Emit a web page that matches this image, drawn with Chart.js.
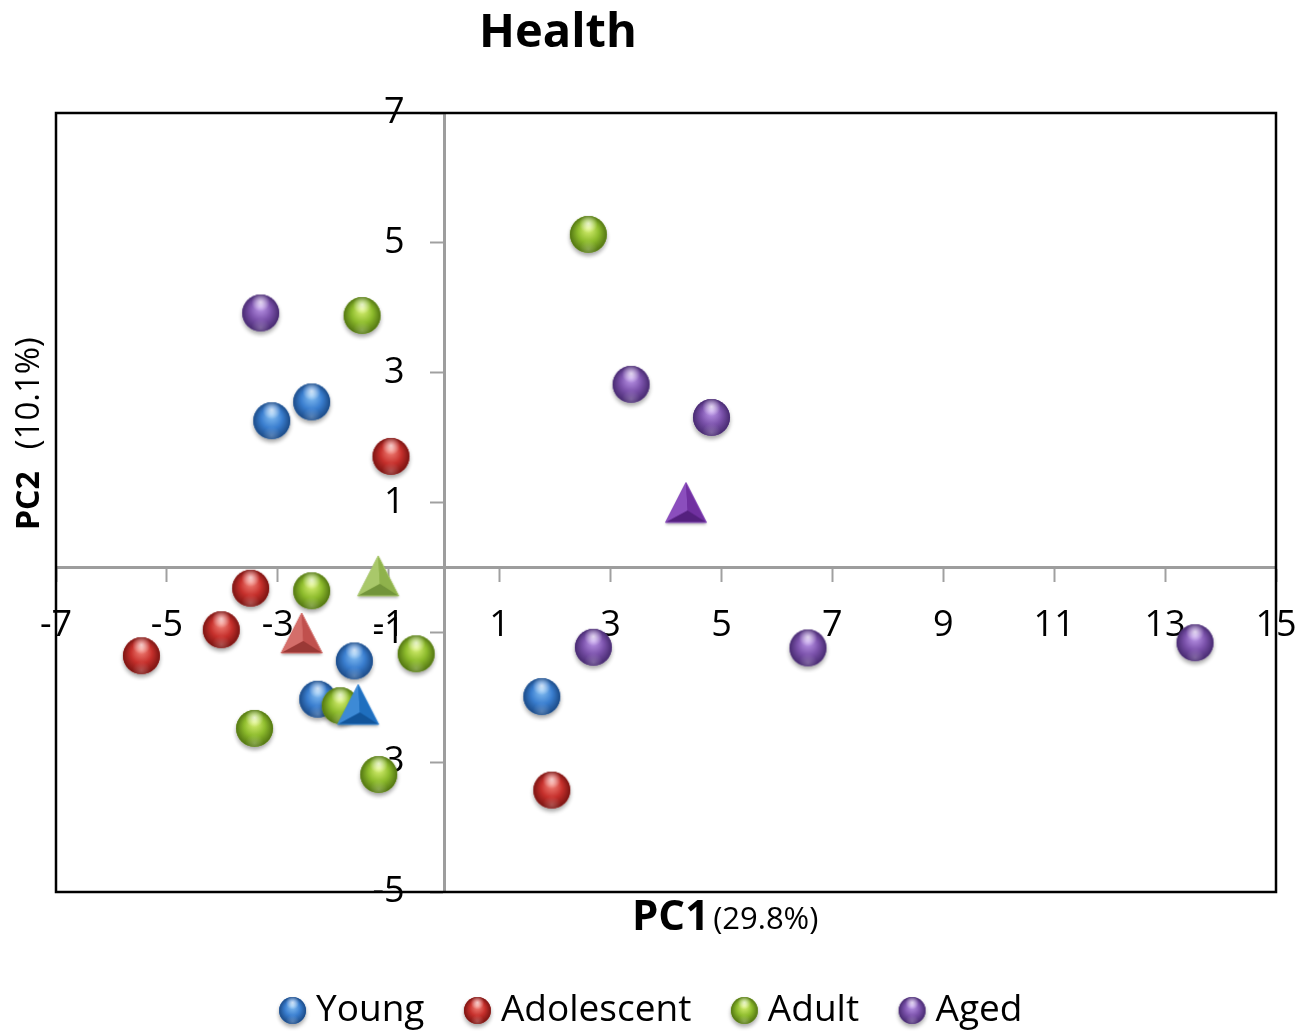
<!DOCTYPE html>
<html>
<head>
<meta charset="utf-8">
<style>
html,body{margin:0;padding:0;background:#ffffff;}
#wrap{width:1316px;height:1036px;position:relative;}
</style>
<script src="https://cdn.jsdelivr.net/npm/chart.js@4/dist/chart.umd.min.js"></script>
</head>
<body>
<div id="wrap"><canvas id="c" width="1316" height="1036"></canvas></div>
<script>
// ---------- data ----------
const chartTitle = 'Health';
const xTitleBold = 'PC1';
const xTitleRest = '(29.8%)';
const yTitleBold = 'PC2';
const yTitleRest = '(10.1%)';
const seriesNames = ['Young', 'Adolescent', 'Adult', 'Aged'];

const youngX = [-3.11, -2.39, -1.62, -2.28, 1.76];
const youngY = [2.26, 2.55, -1.44, -2.03, -1.99];
const adolescentX = [-0.96, -3.49, -4.02, -5.46, 1.94];
const adolescentY = [1.71, -0.32, -0.96, -1.36, -3.43];
const adultX = [2.60, -1.48, -2.39, -0.505, -3.42, -1.875, -1.18];
const adultY = [5.13, 3.88, -0.36, -1.33, -2.48, -2.13, -3.19];
const agedX = [-3.31, 3.37, 4.82, 2.69, 6.56, 13.54];
const agedY = [3.92, 2.82, 2.31, -1.23, -1.24, -1.16];

// group centres (triangles)
const centreX = [-1.55, -2.57, -1.19, 4.36];
const centreY = [-2.11, -1.01, -0.13, 1.00];

const xMin = -7, xMax = 15, xStep = 2;
const yMin = -5, yMax = 7, yStep = 2;

// ---------- styles ----------
const ballColors = [
  {base:'#3a7ecf', light:'#86c0f4', dark:'#1b4a86'},
  {base:'#c6302c', light:'#f4847a', dark:'#7a1412'},
  {base:'#8dbb2c', light:'#d9f274', dark:'#527512'},
  {base:'#7b52ab', light:'#bd98ea', dark:'#472a70'}
];
const triColors = [
  {base:'#1f6fbf', light:'#3d8ad6', dark:'#12559b'},
  {base:'#c0504d', light:'#d46e6a', dark:'#9a3936'},
  {base:'#8fb24c', light:'#a9c86a', dark:'#72943a'},
  {base:'#7030a0', light:'#8b4ebd', dark:'#54207e'}
];

function ballSprite(col, r) {
  const pad = 7;
  const s = Math.ceil(2 * r + 2 * pad);
  const c = document.createElement('canvas');
  c.width = s; c.height = s;
  const g = c.getContext('2d');
  const cx = s / 2, cy = s / 2;
  g.save();
  g.shadowColor = 'rgba(0,0,0,0.35)';
  g.shadowBlur = 4;
  g.shadowOffsetY = 3;
  g.beginPath(); g.arc(cx, cy, r, 0, Math.PI * 2);
  g.fillStyle = col.base; g.fill();
  g.restore();
  let grd = g.createRadialGradient(cx, cy - r * 0.35, r * 0.05, cx, cy, r);
  grd.addColorStop(0, col.light);
  grd.addColorStop(0.55, col.base);
  grd.addColorStop(1, col.dark);
  g.beginPath(); g.arc(cx, cy, r, 0, Math.PI * 2);
  g.fillStyle = grd; g.fill();
  grd = g.createRadialGradient(cx, cy - r * 0.58, 0, cx, cy - r * 0.58, r * 0.5);
  grd.addColorStop(0, 'rgba(255,255,255,0.7)');
  grd.addColorStop(1, 'rgba(255,255,255,0)');
  g.beginPath(); g.arc(cx, cy, r, 0, Math.PI * 2);
  g.fillStyle = grd; g.fill();
  grd = g.createRadialGradient(cx, cy + r * 0.8, 0, cx, cy + r * 0.8, r * 0.5);
  grd.addColorStop(0, 'rgba(255,255,255,0.22)');
  grd.addColorStop(1, 'rgba(255,255,255,0)');
  g.beginPath(); g.arc(cx, cy, r, 0, Math.PI * 2);
  g.fillStyle = grd; g.fill();
  return c;
}

function triSprite(col, w, h) {
  const s = 54;
  const c = document.createElement('canvas');
  c.width = s; c.height = s;
  const g = c.getContext('2d');
  const cx = s / 2, top = (s - h) / 2, bot = top + h;
  const A = [cx, top], B = [cx - w / 2, bot], C = [cx + w / 2, bot], P = [cx + w * 0.04, bot - h * 0.3];
  const poly = (pts, fill) => {
    g.beginPath(); g.moveTo(pts[0][0], pts[0][1]);
    for (let i = 1; i < pts.length; i++) g.lineTo(pts[i][0], pts[i][1]);
    g.closePath(); g.fillStyle = fill; g.fill();
  };
  g.save();
  g.shadowColor = 'rgba(0,0,0,0.3)'; g.shadowBlur = 3; g.shadowOffsetY = 2;
  poly([A, B, C], col.base);
  g.restore();
  poly([A, B, P], col.light);
  poly([A, P, C], col.base);
  poly([B, C, P], col.dark);
  g.beginPath(); g.moveTo(A[0], A[1]); g.lineTo(B[0], B[1]); g.lineTo(C[0], C[1]); g.closePath();
  g.lineWidth = 1; g.strokeStyle = col.light; g.stroke();
  return c;
}

const ballImgs = ballColors.map(c => ballSprite(c, 18.5));
const legendImgs = ballColors.map(c => ballSprite(c, 13.5));
const triImgs = triColors.map(c => triSprite(c, 41, 40));

const toPts = (xs, ys) => xs.map((x, i) => ({x: x, y: ys[i]}));
const groupX = [youngX, adolescentX, adultX, agedX];
const groupY = [youngY, adolescentY, adultY, agedY];
const ballOrder = [3, 3, 2, 3];

const datasets = [];
seriesNames.forEach((name, i) => {
  datasets.push({
    label: name + ' centre',
    data: [{x: centreX[i], y: centreY[i]}],
    pointStyle: triImgs[i],
    pointRadius: 20,
    order: 1,
    clip: false
  });
});
seriesNames.forEach((name, i) => {
  datasets.push({
    label: name,
    data: toPts(groupX[i], groupY[i]),
    pointStyle: ballImgs[i],
    pointRadius: 19,
    backgroundColor: ballColors[i].base,
    order: ballOrder[i],
    clip: false
  });
});

const FONT = '"Open Sans", "DejaVu Sans", sans-serif';

const framePlugin = {
  id: 'frame',
  beforeDatasetsDraw(chart) {
    const a = chart.chartArea, ctx = chart.ctx;
    ctx.save();
    ctx.strokeStyle = '#000000';
    ctx.lineWidth = 2.5;
    ctx.strokeRect(a.left, a.top, a.right - a.left, a.bottom - a.top);
    ctx.restore();
  }
};

const textPlugin = {
  id: 'texts',
  afterLayout(chart) {
    if (chart.legend) {
      chart.legend.left -= 11; chart.legend.right -= 11;
      chart.legend.top += 3; chart.legend.bottom += 3;
    }
  },
  afterDraw(chart) {
    const ctx = chart.ctx;
    ctx.save();
    ctx.fillStyle = '#000000';
    ctx.textBaseline = 'alphabetic';
    ctx.textAlign = 'center';
    ctx.font = 'bold 47px ' + FONT;
    ctx.fillText(chartTitle, 558, 47);
    // x title
    ctx.textAlign = 'left';
    ctx.font = 'bold 42px ' + FONT;
    ctx.fillText(xTitleBold, 632, 930);
    let w = ctx.measureText(xTitleBold).width;
    ctx.font = '31px ' + FONT;
    ctx.fillText(xTitleRest, 632 + w + 4, 929);
    // y title
    ctx.translate(39, 530);
    ctx.rotate(-Math.PI / 2);
    ctx.font = 'bold 32px ' + FONT;
    ctx.fillText(yTitleBold, 0, 0);
    w = ctx.measureText(yTitleBold).width;
    ctx.font = '33px ' + FONT;
    ctx.fillText(yTitleRest, w + 22, 0);
    ctx.restore();
  }
};

new Chart(document.getElementById('c'), {
  type: 'scatter',
  data: {datasets: datasets},
  options: {
    responsive: false,
    animation: false,
    events: [],
    layout: {padding: {left: 56, right: 40, top: 113, bottom: 0}},
    scales: {
      x: {
        type: 'linear',
        min: xMin, max: xMax,
        position: {y: 0},
        grid: {display: true, drawOnChartArea: false, drawTicks: true, tickLength: 13, tickColor: '#a0a0a0', tickWidth: 2},
        border: {display: true, color: '#9d9d9d', width: 3},
        ticks: {stepSize: xStep, autoSkip: false, maxRotation: 0, padding: 18, color: '#000000',
          font: {family: FONT, size: 36, lineHeight: 1.5}}
      },
      y: {
        type: 'linear',
        min: yMin, max: yMax,
        position: {x: 0},
        grid: {display: true, drawOnChartArea: false, drawTicks: true, tickLength: 13, tickColor: '#a0a0a0', tickWidth: 2},
        border: {display: true, color: '#9d9d9d', width: 3},
        ticks: {stepSize: yStep, autoSkip: false, padding: 0, color: '#000000', font: {family: FONT, size: 36},
          callback: (v) => v + '\u2003\u200A'}
      },
      xPad: {
        type: 'linear',
        position: 'bottom',
        display: true,
        ticks: {display: false},
        grid: {display: false},
        border: {display: false},
        afterFit: (s) => { s.height = 49; }
      }
    },
    plugins: {
      title: {display: false},
      tooltip: {enabled: false},
      legend: {
        display: true,
        position: 'bottom',
        labels: {
          usePointStyle: true,
          pointStyleWidth: 10,
          padding: 48,
          color: '#000000',
          font: {family: FONT, size: 37},
          generateLabels: () => seriesNames.map((n, i) => ({
            text: n,
            pointStyle: legendImgs[i],
            fillStyle: ballColors[i].base,
            strokeStyle: 'rgba(0,0,0,0)',
            lineWidth: 0,
            hidden: false,
            datasetIndex: i + 4
          }))
        }
      }
    }
  },
  plugins: [framePlugin, textPlugin]
});
</script>
</body>
</html>
